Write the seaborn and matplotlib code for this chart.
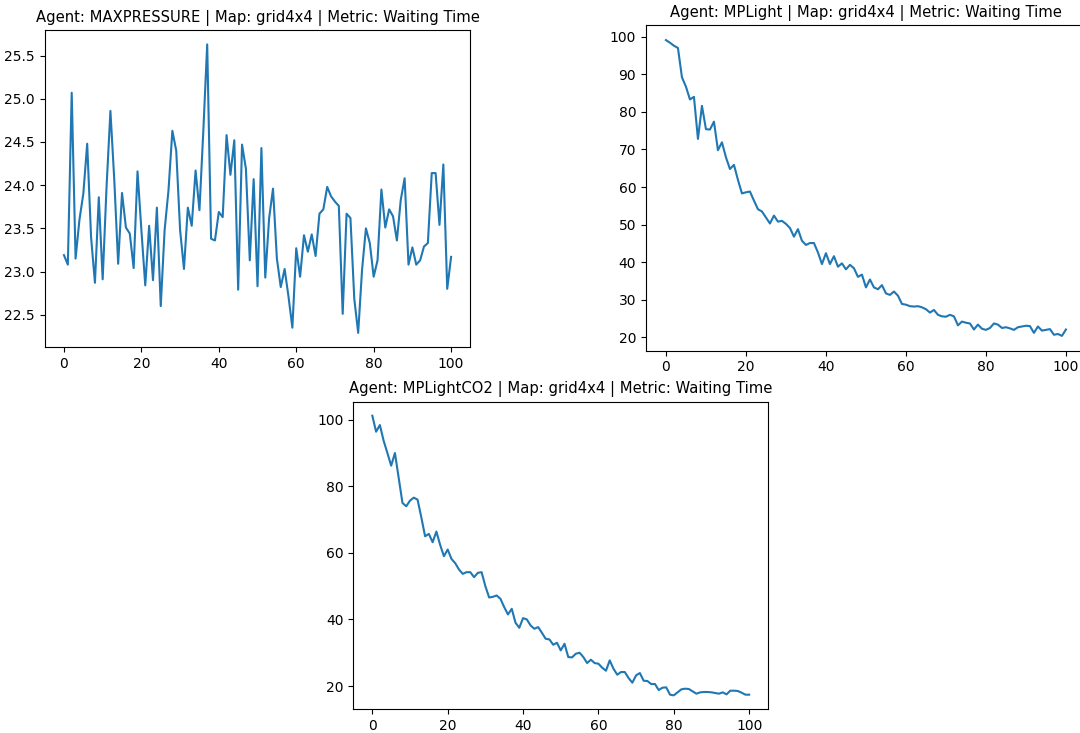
import matplotlib
matplotlib.use('Agg')
import matplotlib.pyplot as plt
import numpy as np
import pandas as pd
import seaborn as sns

# episode index 0..100
episodes = list(range(101))

maxpressure_wait = [
    23.19, 23.08, 25.07, 23.15, 23.60, 23.90, 24.48, 23.40, 22.87, 23.86,
    22.91, 23.98, 24.86, 24.06, 23.09, 23.91, 23.51, 23.44, 23.04, 24.16,
    23.48, 22.84, 23.53, 22.90, 23.74, 22.60, 23.48, 23.94, 24.63, 24.40,
    23.48, 23.03, 23.74, 23.53, 24.17, 23.71, 24.63, 25.63, 23.38, 23.36,
    23.69, 23.63, 24.58, 24.12, 24.52, 22.79, 24.47, 24.19, 23.13, 24.07,
    22.83, 24.43, 22.93, 23.62, 23.96, 23.15, 22.82, 23.03, 22.71, 22.35,
    23.27, 22.94, 23.42, 23.23, 23.43, 23.18, 23.67, 23.72, 23.98, 23.87,
    23.81, 23.76, 22.51, 23.67, 23.62, 22.68, 22.29, 23.02, 23.50, 23.33,
    22.94, 23.13, 23.95, 23.51, 23.72, 23.64, 23.36, 23.83, 24.08, 23.08,
    23.28, 23.08, 23.13, 23.29, 23.33, 24.14, 24.14, 23.54, 24.24, 22.80,
    23.17,
]

mplight_wait = [
    99.1, 98.4, 97.6, 97.0, 89.2, 86.7, 83.3, 84.0, 72.8, 81.6,
    75.4, 75.3, 77.4, 69.8, 71.9, 67.9, 64.8, 65.9, 61.9, 58.3,
    58.6, 58.8, 56.4, 54.1, 53.5, 51.9, 50.3, 52.4, 50.8, 51.0,
    50.2, 49.1, 46.8, 48.8, 45.7, 44.6, 45.1, 45.1, 42.6, 39.5,
    42.4, 39.5, 41.6, 38.8, 39.7, 38.1, 39.3, 38.4, 36.1, 36.7,
    33.3, 35.4, 33.3, 32.8, 33.9, 31.7, 31.3, 32.2, 31.1, 28.9,
    28.7, 28.3, 28.2, 28.3, 28.0, 27.5, 26.6, 27.3, 26.0, 25.6,
    25.5, 26.0, 25.6, 23.2, 24.2, 23.9, 23.7, 22.1, 23.4, 22.3,
    22.0, 22.5, 23.7, 23.4, 22.5, 22.7, 22.4, 22.0, 22.7, 22.9,
    23.1, 23.0, 21.2, 22.9, 21.8, 22.0, 22.2, 20.7, 20.9, 20.4,
    22.1,
]

mplightco2_wait = [
    101.2, 96.4, 98.4, 93.7, 90.0, 86.2, 90.0, 82.5, 75.0, 74.0,
    75.7, 76.6, 76.0, 70.7, 65.0, 65.7, 63.2, 66.4, 62.4, 59.0,
    61.0, 58.2, 56.9, 55.0, 53.7, 54.2, 54.2, 52.7, 54.0, 54.2,
    50.0, 46.6, 46.8, 47.2, 46.2, 43.7, 41.5, 43.2, 39.0, 37.5,
    40.4, 40.0, 38.2, 37.2, 37.7, 36.0, 34.2, 34.0, 32.4, 33.0,
    30.7, 32.7, 28.7, 28.6, 29.7, 30.0, 28.7, 26.9, 27.9, 26.9,
    26.7, 25.5, 24.6, 27.7, 25.2, 23.4, 24.2, 24.2, 22.4, 21.0,
    23.2, 23.9, 21.6, 21.5, 20.6, 20.6, 18.8, 19.5, 19.6, 17.4,
    17.2, 18.1, 19.0, 19.2, 19.1, 18.4, 17.7, 18.1, 18.2, 18.2,
    18.1, 17.9, 17.7, 18.1, 17.5, 18.6, 18.6, 18.5, 18.0, 17.4,
    17.4,
]

agents = ['MAXPRESSURE', 'MPLight', 'MPLightCO2']
map_name = 'grid4x4'
metric = 'Waiting Time'

series = {
    'MAXPRESSURE': maxpressure_wait,
    'MPLight': mplight_wait,
    'MPLightCO2': mplightco2_wait,
}

fig = plt.figure(figsize=(10.8, 7.33), dpi=100)
# two panels on top, one centred below
ax_rects = [
    [0.0413, 0.5262, 0.3943, 0.4329],
    [0.5981, 0.5216, 0.4074, 0.4439],
    [0.3273, 0.0323, 0.3838, 0.4196],
]

for agent, rect in zip(agents, ax_rects):
    ax = fig.add_axes(rect)
    df = pd.DataFrame({'episode': episodes, 'value': series[agent]})
    sns.lineplot(data=df, x='episode', y='value', ax=ax, color='#1f77b4', linewidth=1.5)
    ax.set_xlabel('')
    ax.set_ylabel('')
    ax.set_title(f"Agent: {agent} | Map: {map_name} | Metric: {metric}", fontsize=10.6)

fig.savefig('out.png', dpi=100)
plt.close(fig)
